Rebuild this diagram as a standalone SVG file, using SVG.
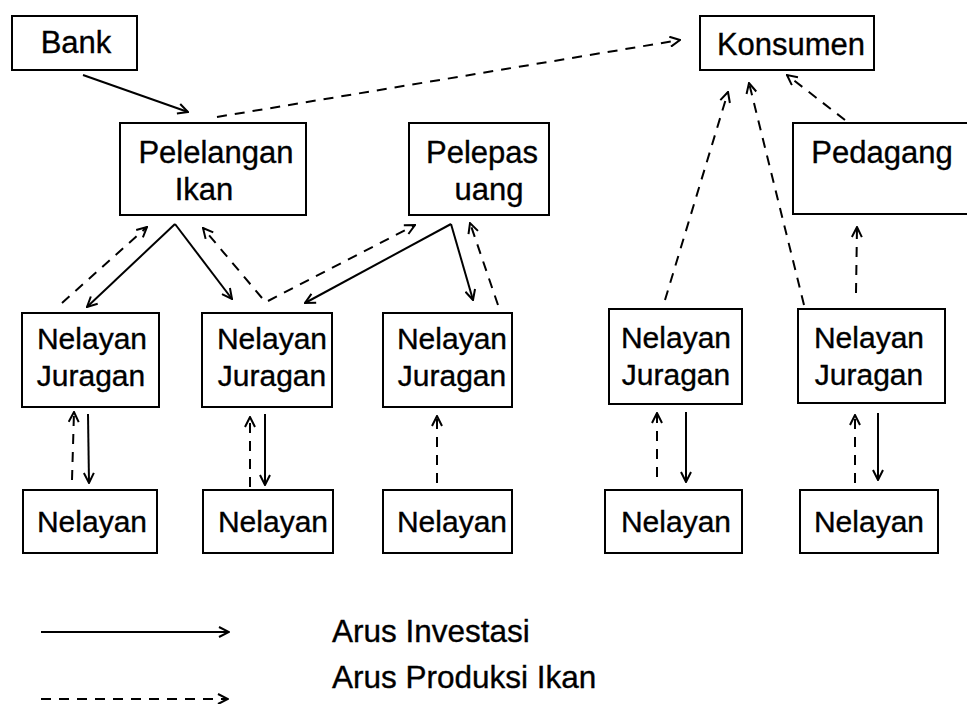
<svg xmlns="http://www.w3.org/2000/svg" width="967" height="704" viewBox="0 0 967 704">
<style>
.box{fill:#fff;stroke:#000;stroke-width:2}
.t{font-family:"Liberation Sans",Arial,sans-serif;font-size:31px;fill:#000;stroke:#000;stroke-width:0.35;text-anchor:middle}
.n{font-size:30px}
.tl{font-family:"Liberation Sans",Arial,sans-serif;font-size:31.5px;fill:#000;stroke:#000;stroke-width:0.35}
.solid{fill:none;stroke:#000;stroke-width:2;marker-end:url(#ah)}
.dash{fill:none;stroke:#000;stroke-width:2;stroke-dasharray:10 8;marker-end:url(#ah)}
</style>
<defs>
<marker id="ah" viewBox="0 0 12 12" refX="11" refY="6" markerWidth="12" markerHeight="12" markerUnits="userSpaceOnUse" orient="auto">
<path d="M1,1 L11,6 L1,11" fill="none" stroke="#000" stroke-width="2"/>
</marker>
</defs>
<rect width="967" height="704" fill="#fff"/>
<g id="bank"><rect class="box" x="12" y="16" width="125" height="54"/><text class="t" x="76" y="53">Bank</text></g>
<g id="konsumen"><rect class="box" x="700" y="16" width="174" height="54"/><text class="t" x="791" y="55">Konsumen</text></g>
<g id="pelelangan"><rect class="box" x="120" y="123" width="186" height="92"/><text class="t" x="216" y="163">Pelelangan</text><text class="t" x="204" y="200">Ikan</text></g>
<g id="pelepas"><rect class="box" x="409" y="123" width="140" height="92"/><text class="t" x="482" y="163">Pelepas</text><text class="t" x="489" y="200">uang</text></g>
<g id="pedagang"><rect class="box" x="793" y="123" width="200" height="91"/><text class="t" x="882" y="163">Pedagang</text></g>
<g id="juragan1"><rect class="box" x="22" y="313" width="137" height="94"/><text class="t n" x="92" y="349">Nelayan</text><text class="t n" x="91" y="386">Juragan</text></g>
<g id="juragan2"><rect class="box" x="202" y="313" width="130" height="94"/><text class="t n" x="272" y="349">Nelayan</text><text class="t n" x="272" y="386">Juragan</text></g>
<g id="juragan3"><rect class="box" x="383" y="313" width="129" height="94"/><text class="t n" x="452" y="349">Nelayan</text><text class="t n" x="452" y="386">Juragan</text></g>
<g id="juragan4"><rect class="box" x="609" y="309" width="133" height="95"/><text class="t n" x="676" y="348">Nelayan</text><text class="t n" x="676" y="385">Juragan</text></g>
<g id="juragan5"><rect class="box" x="798" y="309" width="147" height="94"/><text class="t n" x="869" y="348">Nelayan</text><text class="t n" x="869" y="385">Juragan</text></g>
<g id="nelayan1"><rect class="box" x="23" y="490" width="134" height="63"/><text class="t n" x="92" y="532">Nelayan</text></g>
<g id="nelayan2"><rect class="box" x="203" y="490" width="130" height="63"/><text class="t n" x="273" y="532">Nelayan</text></g>
<g id="nelayan3"><rect class="box" x="383" y="490" width="129" height="63"/><text class="t n" x="452" y="532">Nelayan</text></g>
<g id="nelayan4"><rect class="box" x="605" y="490" width="137" height="63"/><text class="t n" x="676" y="532">Nelayan</text></g>
<g id="nelayan5"><rect class="box" x="800" y="490" width="138" height="63"/><text class="t n" x="869" y="532">Nelayan</text></g>
<g id="connectors">
<path class="solid" d="M83,75 L188,112"/>
<path class="dash" d="M217,117 L680,40"/>
<path class="dash" d="M62,303 L147,227"/>
<path class="solid" d="M175,224 L87,307"/>
<path class="solid" d="M175,224 L232,299"/>
<path class="dash" d="M262,298 L203,228"/>
<path class="dash" d="M268,301 L415,225"/>
<path class="solid" d="M451,224 L305,303"/>
<path class="solid" d="M451,224 L473,300"/>
<path class="dash" d="M498,305 L470,223"/>
<path class="dash" d="M665,300 L728,92"/>
<path class="dash" d="M804,305 L749,83"/>
<path class="dash" d="M845,120 L787,75"/>
<path class="dash" d="M856,293 L857,227"/>
<path class="dash" d="M72,480 L74,412"/>
<path class="solid" d="M88,414 L89,483"/>
<path class="dash" d="M250,487 L250,417"/>
<path class="solid" d="M265,414 L265,485"/>
<path class="dash" d="M437,483 L437,416"/>
<path class="dash" d="M657,477 L657,413"/>
<path class="solid" d="M686,412 L686,482"/>
<path class="dash" d="M855,483 L855,415"/>
<path class="solid" d="M878,413 L878,480"/>
</g>
<g id="legend">
<path class="solid" d="M41,632 L229,632"/>
<path class="dash" d="M41,699 L228,699"/>
<text class="tl" x="332" y="642">Arus Investasi</text>
<text class="tl" x="332" y="688">Arus Produksi Ikan</text>
</g>
</svg>
